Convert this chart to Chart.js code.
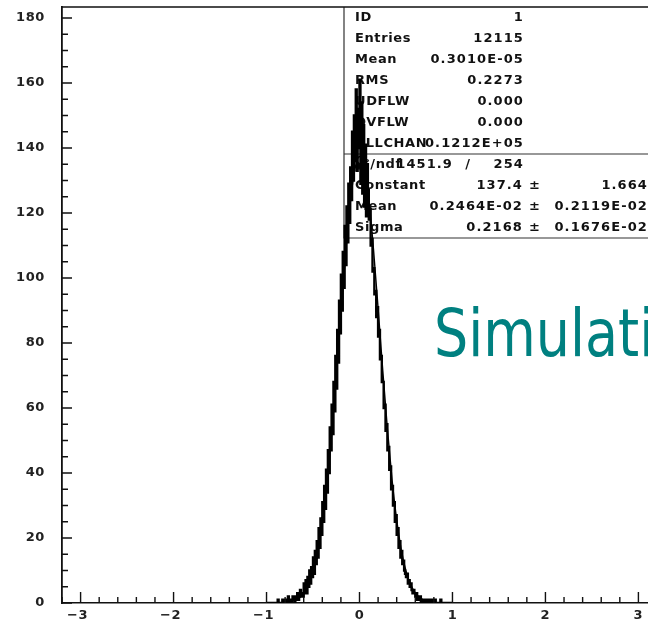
<!DOCTYPE html>
<html>
<head>
<meta charset="utf-8">
<script src="https://cdn.jsdelivr.net/npm/chart.js@4.4.0/dist/chart.umd.min.js"></script>
<style>
  html, body { margin: 0; padding: 0; background: #fff; overflow: hidden; }
  #wrap { width: 648px; height: 623px; overflow: hidden; }
  canvas { display: block; }
</style>
</head>
<body>
<div id="wrap"><canvas id="hist" width="672" height="623"></canvas></div>
<script>
// histogram: counts per bin, bins start at binLow
const binLow = -1.0;
const binWidth = 0.01;
const counts = [
    0, 0, 0, 0, 0, 0, 0, 0, 0, 0,
    0, 0, 0, 1, 0, 0, 0, 0, 1, 0,
    0, 1, 0, 0, 2, 0, 1, 0, 1, 2,
    1, 0, 2, 1, 3, 1, 2, 4, 2, 3,
    2, 6, 3, 7, 3, 8, 5, 10, 6, 11,
    8, 14, 9, 16, 12, 19, 14, 23, 17, 26,
    21, 31, 25, 36, 29, 41, 34, 47, 40, 54,
    47, 61, 52, 68, 59, 76, 66, 84, 74, 93,
    83, 101, 90, 108, 97, 116, 104, 122, 111, 129,
    117, 134, 124, 145, 130, 150, 136, 158, 133, 152,
    140, 161, 129, 154, 126, 147, 122, 141, 119, 135,
    127, 118, 121, 110, 112, 102, 103, 95, 96, 88,
    91, 82, 84, 75, 76, 68, 68, 60, 61, 53,
    55, 47, 48, 41, 42, 35, 36, 30, 31, 25,
    27, 21, 23, 17, 19, 14, 16, 12, 13, 10,
    9, 8, 9, 6, 7, 5, 6, 4, 3, 4,
    3, 2, 3, 1, 2, 1, 2, 0, 1, 1,
    0, 1, 0, 1, 0, 0, 1, 0, 0, 1,
    0, 0, 1, 0, 0, 0, 0, 0, 1, 0,
    0, 0, 0, 0, 0, 0, 0, 0, 0, 0
];

// gaussian fit curve, every 0.05
const fitStart = -1.0;
const fitStep = 0.05;
const fitY = [
    0.003, 0.009, 0.024, 0.06, 0.15, 0.33, 0.72, 1.48, 2.89, 5.34,
    9.37, 15.6, 24.5, 36.6, 51.9, 69.7, 88.8, 107.3, 122.9, 133.4,
    137.4,
    134.1, 124.2, 109.0, 90.7, 71.6, 53.6, 38.0, 25.6, 16.3, 9.9,
    5.66, 3.08, 1.59, 0.78, 0.36, 0.16, 0.07, 0.03, 0.01, 0.003
];

// axes
const xTicks = [-3, -2, -1, 0, 1, 2, 3];
const yTicks = [0, 20, 40, 60, 80, 100, 120, 140, 160, 180];

// statistics box
const statLabels = ["ID", "Entries", "Mean", "RMS", "UDFLW", "OVFLW", "ALLCHAN"];
const statValues = ["1", "12115", "0.3010E-05", "0.2273", "0.000", "0.000", "0.1212E+05"];
const chi2 = "1451.9";
const ndf = "254";
const fitLabels = ["Constant", "Mean", "Sigma"];
const fitValues = ["137.4", "0.2464E-02", "0.2168"];
const fitErrors = ["1.664", "0.2119E-02", "0.1676E-02"];

const histPoints = counts.map((c, i) => ({ x: binLow + i * binWidth, y: c }));
histPoints.push({ x: binLow + counts.length * binWidth, y: 0 });
const fitPoints = fitY.map((v, i) => ({ x: fitStart + i * fitStep, y: v }));

const pawFont = 'bold 13px "DejaVu Sans"';

function pawText(ctx, spacing) {
    ctx.font = pawFont;
    ctx.letterSpacing = spacing + "px";
    ctx.fillStyle = "#111";
}

const paw = {
    id: "paw",
    beforeDatasetsDraw(chart) {
        const ctx = chart.ctx;
        const left = 344, top = chart.chartArea.top, mid = 154, bottom = 238;
        ctx.save();
        ctx.strokeStyle = "#333";
        ctx.lineWidth = 1.2;
        ctx.beginPath();
        ctx.moveTo(left, top);
        ctx.lineTo(left, bottom);
        ctx.lineTo(700, bottom);
        ctx.moveTo(left, mid);
        ctx.lineTo(700, mid);
        ctx.stroke();

        ctx.textBaseline = "middle";
        const rowH = (mid - top) / statLabels.length;
        statLabels.forEach((lab, i) => {
            const y = top + rowH * (i + 0.5);
            pawText(ctx, 0.6);
            ctx.textAlign = "left";
            ctx.fillText(lab, 355, y);
            pawText(ctx, 1.1);
            ctx.textAlign = "right";
            ctx.fillText(statValues[i], 524, y);
        });
        const rowH2 = (bottom - mid) / 4;
        const y0 = mid + rowH2 * 0.5;
        pawText(ctx, 0.6);
        ctx.textAlign = "left";
        ctx.fillText("\u03c7\u00b2/ndf", 355, y0);
        pawText(ctx, 1.1);
        ctx.textAlign = "right";
        ctx.fillText(chi2, 453, y0);
        ctx.fillText("/", 471, y0);
        ctx.fillText(ndf, 524, y0);
        fitLabels.forEach((lab, i) => {
            const y = mid + rowH2 * (i + 1.5);
            pawText(ctx, 0.6);
            ctx.textAlign = "left";
            ctx.fillText(lab, 355, y);
            pawText(ctx, 1.1);
            ctx.textAlign = "right";
            ctx.fillText(fitValues[i], 523, y);
            ctx.textAlign = "center";
            ctx.fillText("\u00b1", 535, y);
            ctx.textAlign = "right";
            ctx.fillText(fitErrors[i], 648, y);
        });
        ctx.restore();
    },
    afterDatasetsDraw(chart) {
        const ctx = chart.ctx;
        const { left, right, top, bottom } = chart.chartArea;
        const xs = chart.scales.x, ys = chart.scales.y;
        ctx.save();
        ctx.strokeStyle = "#111";
        ctx.lineWidth = 1.4;
        ctx.beginPath();
        // top and right frame
        ctx.moveTo(left, top);
        ctx.lineTo(right, top);
        ctx.lineTo(right, bottom);
        // inward ticks on y
        for (let v = 0; v <= ys.max; v += 5) {
            const py = ys.getPixelForValue(v);
            const len = v % 20 === 0 ? 10 : 6;
            ctx.moveTo(left, py);
            ctx.lineTo(left + len, py);
        }
        // inward ticks on x
        for (let k = -16; k <= 16; k++) {
            const px = xs.getPixelForValue(k * 0.2);
            const len = k % 5 === 0 ? 11 : 6;
            ctx.moveTo(px, bottom);
            ctx.lineTo(px, bottom - len);
        }
        ctx.stroke();

        // tick labels
        pawText(ctx, 0.6);
        ctx.fillStyle = "#222";
        ctx.textBaseline = "middle";
        ctx.textAlign = "right";
        yTicks.forEach((v) => ctx.fillText(String(v), 45, ys.getPixelForValue(v)));
        ctx.textAlign = "center";
        xTicks.forEach((v) => ctx.fillText(v < 0 ? "\u2212" + (-v) : String(v), xs.getPixelForValue(v) - (v < 0 ? 3 : 0), bottom + 13));

        // slide title, cut at the right edge
        ctx.fillStyle = "#008080";
        ctx.font = '65px "DejaVu Sans"';
        ctx.letterSpacing = "0px";
        ctx.textAlign = "left";
        ctx.textBaseline = "alphabetic";
        ctx.translate(434, 356);
        ctx.scale(0.83, 1);
        ctx.fillText("Simulation", 0, 0);
        ctx.restore();
    }
};

new Chart(document.getElementById("hist"), {
    type: "line",
    data: {
        datasets: [
            {
                label: "histogram",
                data: histPoints,
                stepped: "after",
                borderColor: "#000",
                borderWidth: 2.4,
                pointRadius: 0,
                fill: false,
            },
            {
                label: "fit",
                data: fitPoints,
                borderColor: "#000",
                borderWidth: 1.4,
                pointRadius: 0,
                fill: false,
                cubicInterpolationMode: "monotone",
            },
        ],
    },
    options: {
        responsive: false,
        animation: false,
        events: [],
        layout: { padding: { top: 7, right: 15, left: 0, bottom: 0 } },
        plugins: {
            legend: { display: false },
            tooltip: { enabled: false },
        },
        scales: {
            x: {
                type: "linear",
                min: -3.2,
                max: 3.2,
                afterBuildTicks: (s) => { s.ticks = xTicks.map((v) => ({ value: v })); },
                afterFit: (s) => { s.height = 20; s.paddingLeft = 0; s.paddingRight = 0; },
                grid: { display: false, drawTicks: false },
                border: { color: "#111", width: 1.6 },
                ticks: { display: false },
            },
            y: {
                min: 0,
                max: 183.4,
                afterBuildTicks: (s) => { s.ticks = yTicks.map((v) => ({ value: v })); },
                afterFit: (s) => { s.width = 62; s.paddingTop = 0; s.paddingBottom = 0; },
                grid: { display: false, drawTicks: false },
                border: { color: "#111", width: 1.8 },
                ticks: { display: false },
            },
        },
    },
    plugins: [paw],
});
</script>
</body>
</html>
